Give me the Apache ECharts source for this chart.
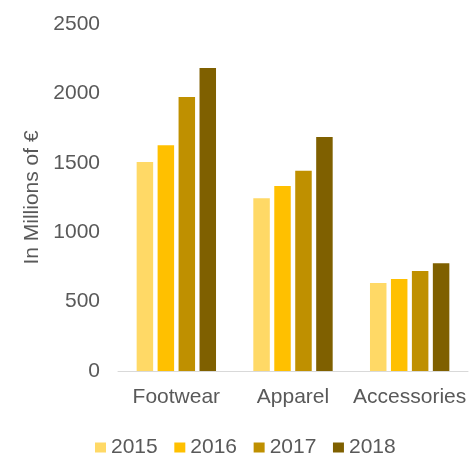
<!DOCTYPE html>
<html>
<head>
<meta charset="utf-8">
<script src="https://cdn.jsdelivr.net/npm/echarts@6/dist/echarts.min.js"></script>
<style>
  html, body { margin: 0; padding: 0; background: #fff; }
  #chart { width: 476px; height: 455px; }
</style>
</head>
<body>
<div id="chart"></div>
<script>
// Revenue by product category, 2015–2018
const categories = ['Footwear', 'Apparel', 'Accessories'];
const years = ['2015', '2016', '2017', '2018'];
const values2015 = [1506, 1244, 634];
const values2016 = [1626, 1333, 663];
const values2017 = [1974, 1443, 720];
const values2018 = [2183, 1686, 776];
const yTicks = [0, 500, 1000, 1500, 2000, 2500];

const yearValues = [values2015, values2016, values2017, values2018];
const colors = ['#FFD966', '#FFC000', '#BF9000', '#7F6000'];
const textColor = '#595959';
const font = 'Liberation Sans, Arial, sans-serif';

const chart = echarts.init(document.getElementById('chart'), null, { renderer: 'canvas' });

chart.setOption({
  animation: false,
  color: colors,
  grid: { left: 118, right: 8, top: 24, bottom: 84, containLabel: false },
  legend: {
    data: years,
    left: 95,
    top: 437,
    padding: 0,
    itemWidth: 11,
    itemHeight: 10,
    itemGap: 16.6,
    icon: 'rect',
    textStyle: { color: textColor, fontSize: 21, fontFamily: font }
  },
  xAxis: {
    type: 'category',
    data: categories,
    axisLine: { show: true, lineStyle: { color: '#D9D9D9', width: 1 } },
    axisTick: { show: false },
    axisLabel: { color: textColor, fontSize: 21, fontFamily: font, margin: 16, interval: 0 }
  },
  yAxis: {
    type: 'value',
    min: yTicks[0],
    max: yTicks[yTicks.length - 1],
    interval: yTicks[1] - yTicks[0],
    name: 'In Millions of €',
    nameLocation: 'middle',
    nameGap: 73,
    nameTextStyle: { color: textColor, fontSize: 21, fontFamily: font },
    axisLine: { show: false },
    axisTick: { show: false },
    splitLine: { show: false },
    axisLabel: {
      color: textColor, fontSize: 21, fontFamily: font, margin: 18,
      formatter: v => String(v)
    }
  },
  series: years.map((y, i) => ({
    name: y,
    type: 'bar',
    data: yearValues[i],
    barWidth: 16.5,
    barGap: '27%',
    itemStyle: { color: colors[i] }
  }))
});
</script>
</body>
</html>
